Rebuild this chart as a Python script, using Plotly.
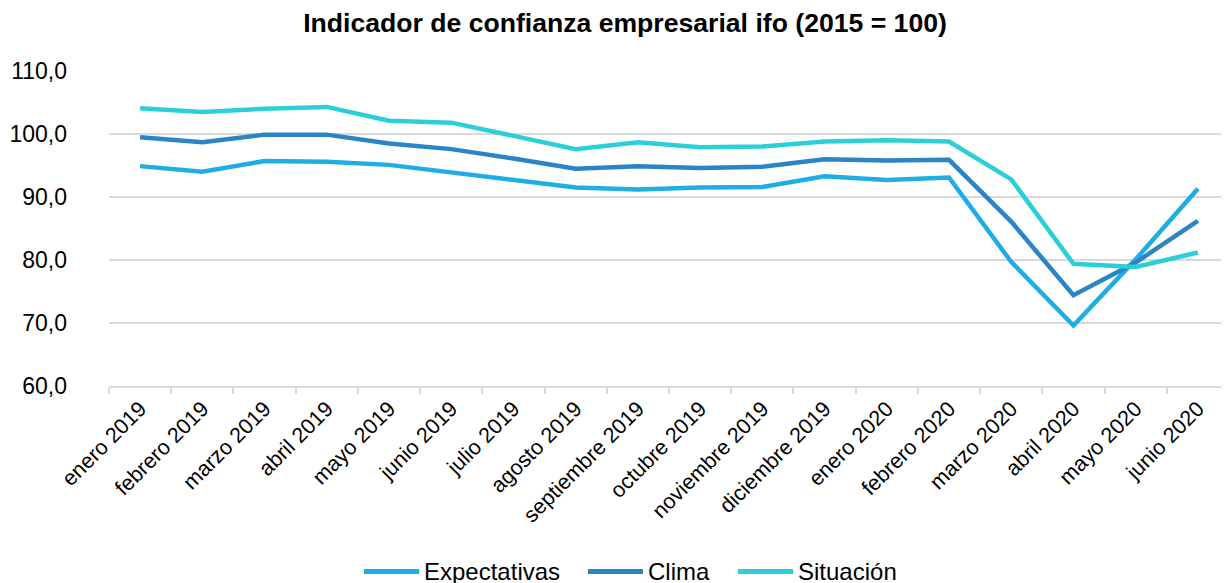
import plotly.graph_objects as go

categorias = ["enero 2019", "febrero 2019", "marzo 2019", "abril 2019", "mayo 2019",
              "junio 2019", "julio 2019", "agosto 2019", "septiembre 2019", "octubre 2019",
              "noviembre 2019", "diciembre 2019", "enero 2020", "febrero 2020", "marzo 2020",
              "abril 2020", "mayo 2020", "junio 2020"]

expectativas = [94.9, 94.0, 95.7, 95.6, 95.1, 93.9, 92.7, 91.5, 91.2, 91.5,
                91.6, 93.3, 92.7, 93.1, 79.7, 69.6, 80.1, 91.3]
clima = [99.5, 98.7, 99.9, 99.9, 98.5, 97.6, 96.1, 94.5, 94.9, 94.6,
         94.8, 96.0, 95.8, 95.9, 86.1, 74.4, 79.6, 86.2]
situacion = [104.1, 103.5, 104.0, 104.3, 102.1, 101.8, 99.7, 97.6, 98.7, 97.9,
             98.0, 98.8, 99.0, 98.8, 92.8, 79.4, 78.9, 81.2]

nombres = ["Expectativas", "Clima", "Situación"]
colores = ["#1FAEE4", "#2A84C6", "#2BCFD8"]
valores_series = [expectativas, clima, situacion]

FONT = "Arial, 'Liberation Sans', sans-serif"

# the page body has an 8px default margin, so the figure is drawn 8px in
W, H = 1221, 575
PL, PT, PB = 101, 63, 197
PW = W - PL
PH = H - PT - PB


def px_x(p):
    return (p - PL) / PW


def px_y(p):
    return (PT + PH - p) / PH


fig = go.Figure()
for nombre, valores, color in zip(nombres, valores_series, colores):
    fig.add_trace(go.Scatter(
        x=categorias, y=valores, name=nombre, mode="lines",
        line=dict(color=color, width=4.5), showlegend=False,
    ))

# legend drawn as line samples + text (long Excel-style samples)
leg_line_x = [356, 580, 730]
leg_line_len = 55
leg_y = 563.5
shapes = []
annotations = []
for nombre, color, x0 in zip(nombres, colores, leg_line_x):
    shapes.append(dict(
        type="line", xref="paper", yref="paper",
        x0=px_x(x0), x1=px_x(x0 + leg_line_len), y0=px_y(leg_y), y1=px_y(leg_y),
        line=dict(color=color, width=5),
    ))
    annotations.append(dict(
        text=nombre, xref="paper", yref="paper",
        x=px_x(x0 + leg_line_len + 3), y=px_y(leg_y - 0.5),
        xanchor="left", yanchor="middle", showarrow=False,
        font=dict(size=24, family=FONT, color="#000000"),
    ))

fig.update_layout(
    width=W, height=H,
    margin=dict(l=PL, r=0, t=PT, b=PB, autoexpand=False),
    paper_bgcolor="white", plot_bgcolor="white",
    separators=",.",
    font=dict(family=FONT, color="#000000"),
    title=dict(
        text="<b>Indicador de confianza empresarial ifo (2015 = 100)</b>",
        x=617 / W, xanchor="center", xref="container",
        y=1 - 14.5 / H, yanchor="middle", yref="container",
        font=dict(size=26.6, family=FONT, color="#000000"),
    ),
    showlegend=False,
    shapes=shapes,
    annotations=annotations,
    hovermode=False,
)

fig.update_xaxes(
    type="category", range=[-0.5, len(categorias) - 0.5],
    showgrid=False, zeroline=False,
    showline=True, linecolor="#D9D9D9", linewidth=1.5,
    ticks="outside", tickson="boundaries", ticklen=6, tickcolor="#D9D9D9", tickwidth=1.5,
    tickangle=-45, tickfont=dict(size=21.5, family=FONT, color="#000000"),
)
fig.update_yaxes(
    range=[60, 110], dtick=10, tick0=60, tickformat=".1f",
    showgrid=True, gridcolor="#D9D9D9", gridwidth=1.5,
    zeroline=False, showline=False, ticks="",
    ticklabelstandoff=41,
    tickfont=dict(size=23, family=FONT, color="#000000"),
)

fig.write_html("out.html")
